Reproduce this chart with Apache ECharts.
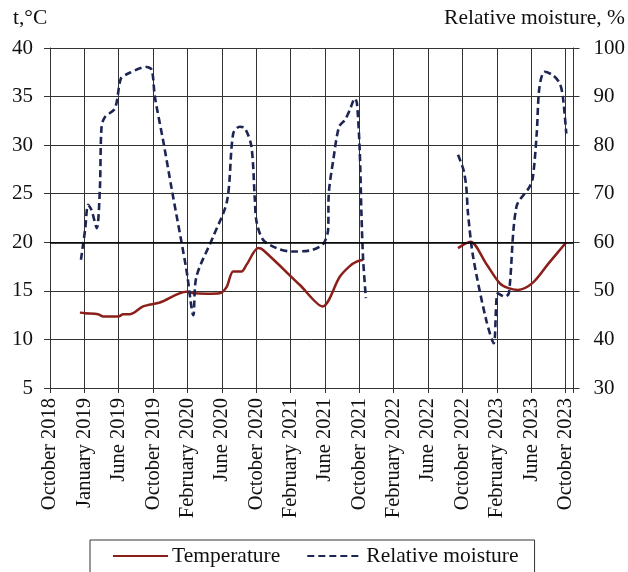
<!DOCTYPE html>
<html><head><meta charset="utf-8">
<script src="https://cdn.jsdelivr.net/npm/echarts@6/dist/echarts.min.js"></script>
<style>html,body{margin:0;padding:0;background:#fff}#c{width:628px;height:572px}</style>
</head><body><div id="c"></div>
<script>
// Category tick labels (evenly spaced positions 0..15)
const categories = ['October 2018','January 2019','June 2019','October 2019','February 2020','June 2020','October 2020','February 2021','June 2021','October 2021','February 2022','June 2022','October 2022','February 2023','June 2023','October 2023'];

// Temperature, °C : [position on category scale, value]
const tempSeg1 = [[0.87,12.76],[1.02,12.7],[1.40,12.6],[1.55,12.35],[1.99,12.35],[2.13,12.6],[2.33,12.6],[2.71,13.4],[3.20,13.8],[3.97,14.9],[4.17,14.75],[4.56,14.7],[4.94,14.75],[5.14,15.4],[5.33,17.0],[5.57,17.0],[5.72,17.7],[6.06,19.4],[6.20,19.2],[7.27,15.6],[7.93,13.4],[8.43,16.45],[8.72,17.55],[8.92,18.0],[9.11,18.2]];
const tempSeg2 = [[11.87,19.4],[12.23,20.05],[12.69,17.8],[13.08,15.8],[13.32,15.3],[13.61,15.1],[14.05,15.85],[14.5,17.8],[15.02,20.0]];

// Relative moisture, %
const moistSeg1 = [[0.90,56.4],[1.02,62.5],[1.11,67.7],[1.21,66.6],[1.36,62.9],[1.45,70.8],[1.50,83.8],[1.60,85.8],[1.89,87.6],[2.06,93.7],[2.23,94.6],[2.81,96.1],[2.96,95.5],[3.05,90.0],[3.29,81.0],[3.54,71.0],[3.97,54.3],[4.17,45.0],[4.26,52.9],[4.75,61.2],[5.15,68.5],[5.33,82.4],[5.52,83.8],[5.67,83.5],[5.86,79.7],[5.96,68.7],[6.01,64.2],[6.20,60.5],[6.59,58.8],[7.03,58.1],[7.56,58.3],[7.85,59.1],[7.99,60.1],[8.09,62.5],[8.11,70.0],[8.24,76.9],[8.41,83.8],[8.58,85.2],[8.72,87.2],[8.87,89.6],[8.93,88.6],[9.01,79.0],[9.06,66.0],[9.11,56.4],[9.19,48.5]];
const moistSeg2 = [[11.87,78.0],[12.03,74.9],[12.11,71.4],[12.16,66.0],[12.31,57.0],[12.69,44.0],[12.91,39.2],[13.03,49.5],[13.23,48.8],[13.35,49.5],[13.57,67.3],[13.95,71.4],[14.05,73.5],[14.16,82.4],[14.24,92.0],[14.39,95.1],[14.63,94.4],[14.83,92.7],[14.92,90.0],[15.02,82.4]];

const FONT = 'Liberation Serif';
const TEMP_COLOR = '#8b1f1a';
const MOIST_COLOR = '#1c2553';
const GRID_COLOR = '#333';

const chart = echarts.init(document.getElementById('c'));
const tempLine = {type:'line', yAxisIndex:0, symbol:'none', smooth:0.3, lineStyle:{color:TEMP_COLOR,width:2.5}, itemStyle:{color:TEMP_COLOR}, silent:true};
const moistLine = {type:'line', yAxisIndex:1, symbol:'none', smooth:0.3, lineStyle:{color:MOIST_COLOR,width:2.6,type:[7,4]}, itemStyle:{color:MOIST_COLOR}, silent:true};

chart.setOption({
  animation:false,
  backgroundColor:'#fff',
  textStyle:{fontFamily:FONT},
  grid:{left:50, right:54, top:48, bottom:184},
  legend:{
    left:90, top:540, orient:'horizontal',
    data:['Temperature','Relative moisture'],
    itemWidth:55, itemHeight:14, itemGap:26,
    itemStyle:{opacity:0},
    borderColor:'#333', borderWidth:1, padding:[5,16,8,22],
    textStyle:{fontFamily:FONT, fontSize:21.5, color:'#111', padding:[0,0,0,-1]}
  },
  graphic:[
    {type:'text', left:13, top:7, style:{text:'t,°C', font:'21.5px "Liberation Serif"', fill:'#111'}},
    {type:'text', right:3, top:7, style:{text:'Relative moisture, %', font:'21.5px "Liberation Serif"', fill:'#111'}}
  ],
  xAxis:{
    type:'value', min:0, max:15.23, interval:1,
    axisLine:{show:true, lineStyle:{color:'#333', width:1}},
    axisTick:{show:true, length:5, lineStyle:{color:'#333'}},
    splitLine:{show:true, lineStyle:{color:GRID_COLOR, width:1}},
    axisLabel:{rotate:90, margin:10, fontFamily:FONT, fontSize:20.5, color:'#111',
      formatter:function(v){ const i=Math.round(v); return Math.abs(v-i)<1e-6 && categories[i] ? categories[i] : ''; }}
  },
  yAxis:[
    {type:'value', min:5, max:40, interval:5, position:'left',
      axisLine:{show:true, lineStyle:{color:'#333'}},
      axisTick:{show:true, length:6, lineStyle:{color:'#333'}},
      splitLine:{show:true, lineStyle:{color:GRID_COLOR, width:1}},
      axisLabel:{fontFamily:FONT, fontSize:21, color:'#111', margin:17}},
    {type:'value', min:30, max:100, interval:10, position:'right',
      axisLine:{show:true, lineStyle:{color:'#333'}},
      axisTick:{show:true, length:6, lineStyle:{color:'#333'}},
      splitLine:{show:false},
      axisLabel:{fontFamily:FONT, fontSize:21, color:'#111', margin:20}}
  ],
  series:[
    Object.assign({name:'Temperature', data:tempSeg1,
      markLine:{silent:true, symbol:'none', label:{show:false}, lineStyle:{color:'#000', width:1.6, type:'solid'}, data:[{yAxis:20}]}}, tempLine),
    Object.assign({name:'Temperature', data:tempSeg2}, tempLine),
    Object.assign({name:'Relative moisture', data:moistSeg1}, moistLine),
    Object.assign({name:'Relative moisture', data:moistSeg2}, moistLine)
  ]
});
</script></body></html>
